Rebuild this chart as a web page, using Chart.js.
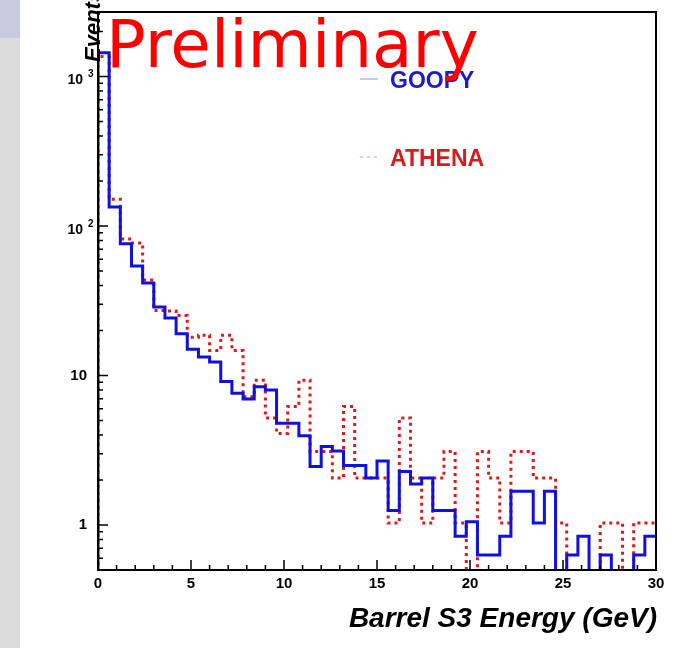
<!DOCTYPE html>
<html>
<head>
<meta charset="utf-8">
<script src="https://cdn.jsdelivr.net/npm/chart.js@4/dist/chart.umd.min.js"></script>
<style>
  body { margin: 0; background: #fff; }
  #wrap { position: relative; width: 684px; height: 648px; }
  .strip { position: absolute; left: 0; top: 0; width: 20px; height: 648px; background: #dcdcdc; }
  .tab { position: absolute; left: 0; top: 0; width: 20px; height: 38px; background: #c8cadf; }
  canvas { position: absolute; left: 0; top: 0; }
</style>
</head>
<body>
<div id="wrap"><div class="strip"></div><div class="tab"></div><canvas id="chart" width="684" height="648"></canvas></div>
<script>
// 50 bins of 0.6 GeV from 0 to 30
const binWidth = 0.6;
const goopy = [1439, 134, 76, 54, 41.5, 28.7, 24.2, 19, 15, 13.3,
  12.3, 9.1, 7.6, 6.95, 8.4, 8.0, 4.8, 4.8, 3.95, 2.46,
  3.35, 3.13, 2.5, 2.5, 2.06, 2.68, 1.25, 2.28, 1.88, 2.06,
  1.25, 1.25, 0.84, 1.05, 0.63, 0.63, 0.84, 1.68, 1.68, 1.03,
  1.68, 0, 0.63, 0.84, 0, 0.63, 0, 0, 0.63, 0.84];
const athena = [1360, 151, 82, 77, 43.6, 27.2, 27, 25.2, 18, 18.6,
  14.7, 18.6, 14.7, 7.2, 9.3, 5.2, 4.1, 6.2, 9.3, 3.1,
  3.1, 2.06, 6.2, 2.06, 2.06, 2.06, 1.03, 5.2, 2.06, 1.03,
  2.06, 3.1, 1.03, 0, 3.1, 2.06, 1.03, 3.1, 3.1, 2.06,
  2.06, 1.03, 0, 0, 0, 1.03, 1.03, 0, 1.03, 1.03];
const yTickValues = [1, 10, 100, 1000];
const yTickBase = ['1', '10', '10', '10'];
const yTickExp = ['', '', '2', '3'];
const seriesNames = ['GOOPY', 'ATHENA'];

const xMin = 0, xMax = 30, yMin = 0.5, yMax = 2700;

// step points: rise from the floor at x=0, one point per bin low edge, close at x=30
function histPoints(vals) {
  let pts = [{ x: 0, y: 0.01 }];
  vals.forEach((v, i) => {
    pts.push({ x: i * binWidth, y: v > 0 ? v : 0.01 });
  });
  pts.push({ x: vals.length * binWidth, y: vals[vals.length - 1] || 0.01 });
  return pts;
}

const tickFont = { family: 'Liberation Sans', weight: 'bold', size: 15 };

const decorations = {
  id: 'decorations',
  afterDatasetsDraw(chart) {
    const { ctx, chartArea: a, scales: { x, y } } = chart;
    ctx.save();
    ctx.strokeStyle = '#000';
    ctx.lineWidth = 1.5;
    ctx.beginPath();
    for (let v = xMin; v <= xMax; v++) {
      const px = x.getPixelForValue(v);
      const len = v % 5 === 0 ? 10 : 5;
      ctx.moveTo(px, a.bottom);
      ctx.lineTo(px, a.bottom - len);
    }
    for (let e = -1; e <= 3; e++) {
      for (let m = 1; m <= 9; m++) {
        const v = m * Math.pow(10, e);
        if (v < yMin || v > yMax) continue;
        const py = y.getPixelForValue(v);
        const len = m === 1 ? 10 : 5;
        ctx.moveTo(a.left, py);
        ctx.lineTo(a.left + len, py);
      }
    }
    ctx.stroke();
    ctx.lineWidth = 2;
    ctx.strokeRect(a.left, a.top, a.right - a.left, a.bottom - a.top);

    // y tick labels, ROOT style powers of ten
    ctx.fillStyle = '#000';
    yTickValues.forEach((v, i) => {
      const py = y.getPixelForValue(v);
      if (yTickExp[i]) {
        ctx.font = 'bold 14px "Liberation Sans"';
        ctx.textAlign = 'right';
        ctx.textBaseline = 'alphabetic';
        ctx.fillText(yTickBase[i], 83, py + 8);
        ctx.font = 'bold 10px "Liberation Sans"';
        ctx.textAlign = 'left';
        ctx.fillText(yTickExp[i], 88, py + 1);
      } else {
        ctx.font = 'bold 15px "Liberation Sans"';
        ctx.textAlign = 'right';
        ctx.textBaseline = 'middle';
        ctx.fillText(yTickBase[i], 87, py);
      }
    });
    ctx.restore();
  },
  afterDraw(chart) {
    const { ctx } = chart;
    ctx.save();
    // legend
    const ds = chart.data.datasets;
    const rows = [88, 166];
    const colors = ['#1a1ad2', '#d81c1c'];
    ds.forEach((d, i) => {
      ctx.strokeStyle = d.borderColor;
      ctx.globalAlpha = 0.45;
      ctx.lineWidth = 1;
      ctx.setLineDash(d.borderDash || []);
      ctx.beginPath();
      ctx.moveTo(360, rows[i] - 9);
      ctx.lineTo(378, rows[i] - 9);
      ctx.stroke();
      ctx.setLineDash([]);
      ctx.globalAlpha = 1;
      ctx.fillStyle = colors[i];
      ctx.font = 'bold 23px "Liberation Sans"';
      ctx.textAlign = 'left';
      ctx.textBaseline = 'alphabetic';
      ctx.fillText(seriesNames[i], 390, rows[i]);
    });
    // axis titles
    ctx.fillStyle = '#000';
    ctx.font = 'italic bold 28px "Liberation Sans"';
    ctx.textAlign = 'right';
    ctx.fillText('Barrel S3 Energy (GeV)', 657, 627);
    ctx.save();
    ctx.font = 'italic bold 22px "Liberation Sans"';
    ctx.translate(100, 62);
    ctx.rotate(-Math.PI / 2);
    ctx.textAlign = 'left';
    ctx.fillText('Events', 0, 0);
    ctx.restore();
    // watermark
    ctx.fillStyle = '#ff0000';
    ctx.font = '66px "DejaVu Sans"';
    ctx.textAlign = 'left';
    ctx.fillText('Preliminary', 106, 67);
    ctx.restore();
  }
};

new Chart(document.getElementById('chart'), {
  type: 'line',
  data: {
    datasets: [
      {
        label: seriesNames[0],
        data: histPoints(goopy),
        borderColor: '#1010e0',
        borderWidth: 3,
        stepped: 'before',
        pointRadius: 0,
        fill: false
      },
      {
        label: seriesNames[1],
        data: histPoints(athena),
        borderColor: '#e01818',
        borderWidth: 3,
        borderDash: [3, 4],
        stepped: 'before',
        pointRadius: 0,
        fill: false
      }
    ]
  },
  options: {
    responsive: false,
    animation: false,
    layout: { padding: { left: 0, top: 12, right: 28, bottom: 0 } },
    plugins: { legend: { display: false }, tooltip: { enabled: false } },
    scales: {
      x: {
        type: 'linear',
        min: xMin,
        max: xMax,
        grid: { display: false, drawTicks: false },
        border: { display: false },
        ticks: { stepSize: 5, color: '#000', font: tickFont, padding: 5, maxRotation: 0 },
        afterFit(s) { s.height = 78; }
      },
      y: {
        type: 'logarithmic',
        min: yMin,
        max: yMax,
        grid: { display: false, drawTicks: false },
        border: { display: false },
        afterBuildTicks(s) { s.ticks = yTickValues.map(v => ({ value: v })); },
        ticks: { display: false },
        afterFit(s) { s.width = 98; }
      }
    }
  },
  plugins: [decorations]
});
</script>
</body>
</html>
